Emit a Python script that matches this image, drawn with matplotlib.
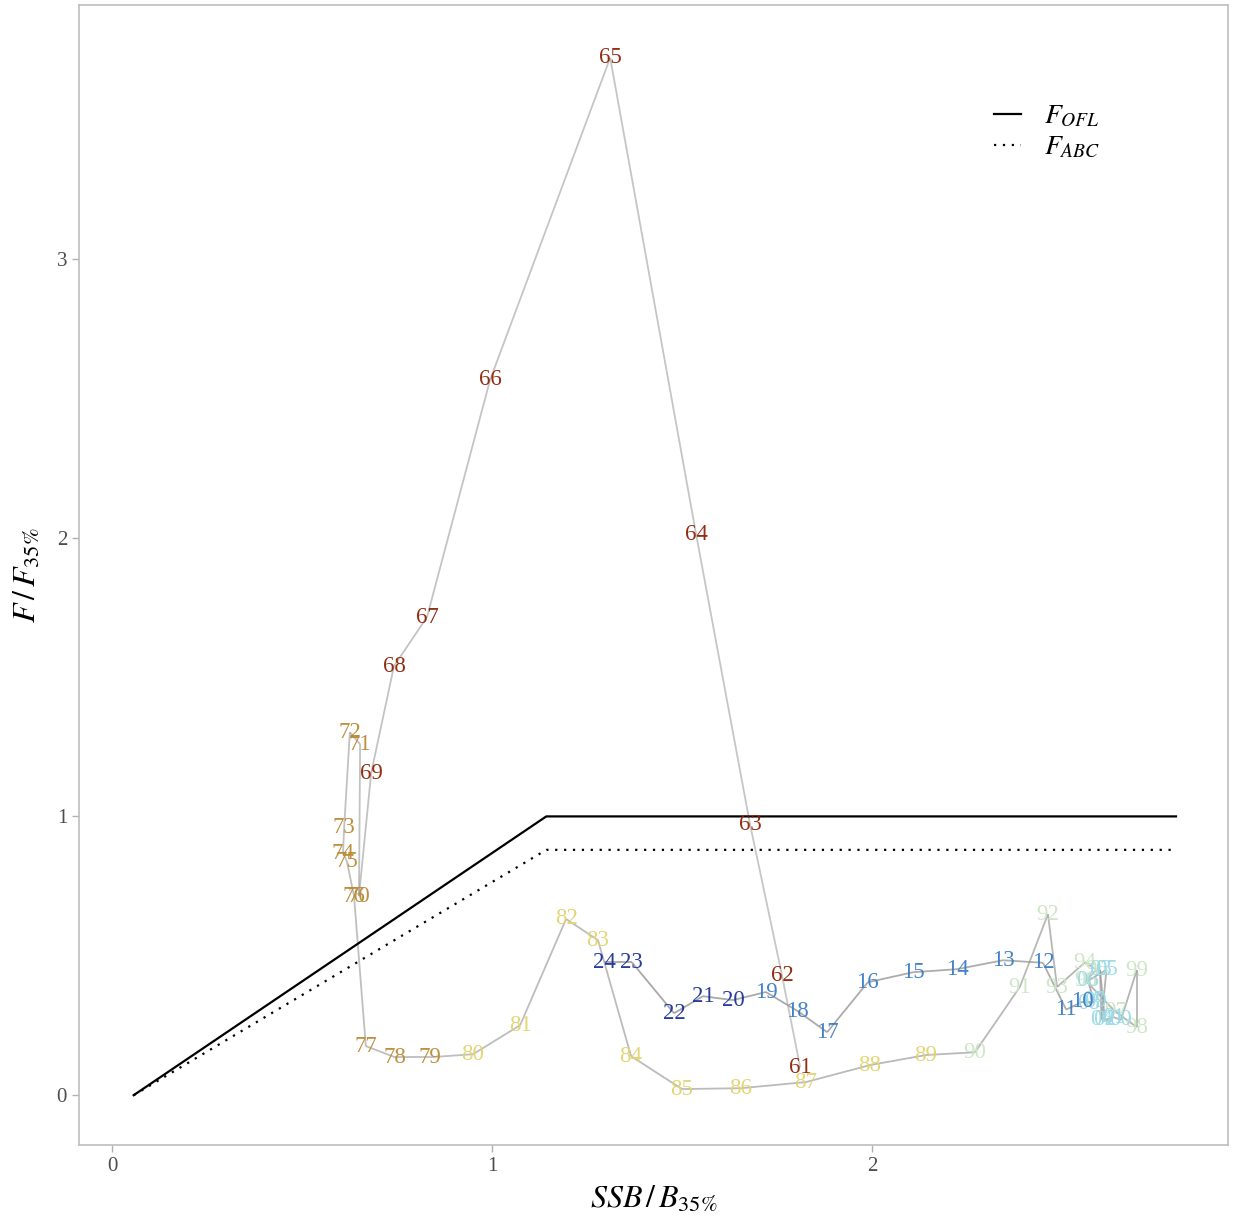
import numpy as np
import matplotlib
matplotlib.use("Agg")
import matplotlib.pyplot as plt
from matplotlib.collections import LineCollection

# === DATA ===
years = list(range(1961, 2025))
ssb = [1.811, 1.763, 1.679, 1.537, 1.311, 0.995, 0.829, 0.742, 0.682, 0.650,   # 61-70
       0.653, 0.626, 0.611, 0.608, 0.618, 0.637, 0.668, 0.745, 0.837, 0.950,   # 71-80
       1.074, 1.195, 1.279, 1.366, 1.500, 1.655, 1.826, 1.995, 2.142, 2.271,   # 81-90
       2.389, 2.463, 2.487, 2.561, 2.590, 2.563, 2.640, 2.697, 2.697, 2.655,   # 91-00
       2.636, 2.613, 2.600, 2.604, 2.617, 2.568, 2.584, 2.571, 2.587, 2.553,   # 01-10
       2.511, 2.450, 2.345, 2.224, 2.108, 1.989, 1.882, 1.805, 1.721, 1.634,   # 11-20
       1.555, 1.479, 1.368, 1.295]                                             # 21-24
f_ratio = [0.100, 0.431, 0.972, 2.013, 3.721, 2.566, 1.715, 1.539, 1.155, 0.714,
           1.259, 1.302, 0.962, 0.868, 0.840, 0.714, 0.176, 0.136, 0.136, 0.147,
           0.251, 0.632, 0.556, 0.140, 0.022, 0.025, 0.047, 0.108, 0.144, 0.154,
           0.388, 0.649, 0.388, 0.477, 0.450, 0.410, 0.300, 0.244, 0.449, 0.270,
           0.280, 0.270, 0.450, 0.270, 0.450, 0.410, 0.340, 0.330, 0.335, 0.335,
           0.307, 0.475, 0.484, 0.452, 0.441, 0.405, 0.226, 0.301, 0.370, 0.341,
           0.355, 0.294, 0.477, 0.477]

# harvest control rule (x in units of B35)
b40 = 40 / 35
rule_x = [0.05 * b40, b40, 2.8]
ofl_y = [0.0, 1.0, 1.0]
abc_y = [0.0, 0.88, 0.88]

decade_colors = {1960: "#8B2306", 1970: "#BA8A35", 1980: "#E1D46E",
                 1990: "#CBE6C4", 2000: "#9BDAE6", 2010: "#3A7CC6", 2020: "#1C3298"}

plt.rcParams["font.family"] = ["Liberation Serif", "DejaVu Serif"]
plt.rcParams["mathtext.fontset"] = "stix"

fig = plt.figure(figsize=(12.33, 12.26), dpi=100)
ax = fig.add_axes([0.064, 0.066, 0.932, 0.930])

# trajectory, grey segments
pts = np.column_stack([ssb, f_ratio])
segs = np.stack([pts[:-1], pts[1:]], axis=1)
seg_alpha = np.linspace(0.55, 0.85, len(segs))
seg_cols = [(0.6, 0.6, 0.6, a) for a in seg_alpha]
ax.add_collection(LineCollection(segs, colors=seg_cols, linewidths=1.3, zorder=2))

# control rules
ax.plot(rule_x, ofl_y, color="black", lw=1.6, label=r"$F_{OFL}$", zorder=3)
ax.plot(rule_x, abc_y, color="black", lw=1.6, ls=(0, (1, 3)), label=r"$F_{ABC}$", zorder=3)

# year labels
for yr, x, y in zip(years, ssb, f_ratio):
    col = decade_colors[(yr // 10) * 10]
    ax.text(x, y, f"{yr % 100:02d}", color=col, fontsize=16.5, ha="center",
            va="center", zorder=4, alpha=0.95)

ax.set_xlim(-0.087, 2.937)
ax.set_ylim(-0.179, 3.911)
ax.set_xticks([0, 1, 2])
ax.set_yticks([0, 1, 2, 3])
ax.tick_params(colors="#B0B0B0", labelcolor="#4D4D4D", labelsize=15, length=5, width=1)
for s in ax.spines.values():
    s.set_color("#BEBEBE")
    s.set_linewidth(1.2)

ax.set_xlabel(r"$SSB\,/\,B_{35\%}$", fontsize=23, labelpad=6)
ax.set_ylabel(r"$F\,/\,F_{35\%}$", fontsize=23, labelpad=10)

leg = ax.legend(loc="upper right", bbox_to_anchor=(0.91, 0.935), frameon=False,
                fontsize=20, handlelength=1.0, handletextpad=0.8, labelspacing=0.2)

fig.savefig("out.png", dpi=100)
